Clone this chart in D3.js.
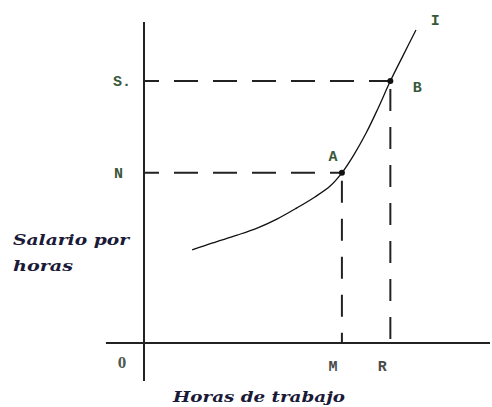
<!DOCTYPE html>
<html>
<head>
<meta charset="utf-8">
<script src="https://cdn.jsdelivr.net/npm/d3@7"></script>
<style>
  html, body { margin: 0; padding: 0; background: #fff; }
  svg { display: block; }
</style>
</head>
<body>
<svg id="chart" width="492" height="407"></svg>
<script>
// Curve I: hourly wage vs. hours of work (conceptual units 0–100)
const curveX = [13.9, 19.9, 26.9, 32.7, 38.4, 44.2, 49.4, 53.8, 57.2, 60.7, 64.2, 67.6, 71.2, 74.9, 78.6];
const curveY = [29.0, 31.2, 33.6, 35.8, 38.6, 42.1, 45.5, 48.9, 53.0, 58.7, 65.4, 73.0, 81.6, 89.6, 97.5];

// Marked points on the curve and their projections
const pointNames = ["A", "B"];
const pointX = [57.2, 71.2];
const pointY = [53.0, 81.6];
const yTickLabels = ["N", "S."];
const xTickLabels = ["M", "R"];
const originLabel = "0";
const curveLabel = "I";
const yTitle = ["Salario por", "horas"];
const xTitle = "Horas de trabajo";

const svg = d3.select("#chart");
const x = d3.scaleLinear().domain([0, 100]).range([144, 490]);
const y = d3.scaleLinear().domain([0, 100]).range([343, 22]);

const ink = "#222";
const labelInk = "#3a583b";

// Axes (extended slightly past the origin)
svg.append("line")
  .attr("x1", x(0)).attr("x2", x(0))
  .attr("y1", y(-11.8)).attr("y2", y(100))
  .attr("stroke", ink).attr("stroke-width", 2);
svg.append("line")
  .attr("x1", x(-11)).attr("x2", x(100))
  .attr("y1", y(0)).attr("y2", y(0))
  .attr("stroke", ink).attr("stroke-width", 2);

// Dashed projection lines
pointX.forEach((px, i) => {
  const py = pointY[i];
  svg.append("line")
    .attr("x1", x(0)).attr("x2", x(px))
    .attr("y1", y(py)).attr("y2", y(py))
    .attr("stroke", ink).attr("stroke-width", 2)
    .attr("stroke-dasharray", "24,15").attr("stroke-dashoffset", 9);
  svg.append("line")
    .attr("x1", x(px)).attr("x2", x(px))
    .attr("y1", y(py)).attr("y2", y(0))
    .attr("stroke", ink).attr("stroke-width", 2)
    .attr("stroke-dasharray", "22,16").attr("stroke-dashoffset", 30);
});

// Curve
const pts = curveX.map((cx, i) => [cx, curveY[i]]);
svg.append("path")
  .datum(pts)
  .attr("d", d3.line().x(d => x(d[0])).y(d => y(d[1])).curve(d3.curveCatmullRom))
  .attr("fill", "none").attr("stroke", "#111").attr("stroke-width", 1.3);

// Points
svg.selectAll("circle.pt").data(pointX).enter().append("circle")
  .attr("class", "pt")
  .attr("cx", d => x(d)).attr("cy", (d, i) => y(pointY[i]))
  .attr("r", 3).attr("fill", "#111");

const mono = "'Liberation Mono', 'DejaVu Sans Mono', monospace";

// Point names
svg.selectAll("text.pn").data(pointNames).enter().append("text")
  .attr("class", "pn")
  .attr("x", (d, i) => i === 0 ? x(pointX[i]) - 9 : x(pointX[i]) + 27)
  .attr("y", (d, i) => i === 0 ? y(pointY[i]) - 12 : y(pointY[i]) + 11)
  .attr("text-anchor", "middle")
  .attr("font-family", mono).attr("font-weight", "bold").attr("font-size", 15)
  .attr("fill", labelInk).text(d => d);

// Curve name
svg.append("text")
  .attr("x", x(84.2)).attr("y", y(99))
  .attr("text-anchor", "middle")
  .attr("font-family", mono).attr("font-weight", "bold").attr("font-size", 15)
  .attr("fill", labelInk).text(curveLabel);

// Y tick labels
svg.selectAll("text.yt").data(yTickLabels).enter().append("text")
  .attr("class", "yt")
  .attr("x", (d, i) => i === 0 ? 114 : 113)
  .attr("y", (d, i) => y(pointY[i]) + 5)
  .attr("font-family", mono).attr("font-weight", "bold").attr("font-size", 15)
  .attr("fill", labelInk).text(d => d);

// X tick labels
svg.selectAll("text.xt").data(xTickLabels).enter().append("text")
  .attr("class", "xt")
  .attr("x", (d, i) => x(pointX[i]) + (i === 0 ? -9 : -8))
  .attr("y", y(0) + 28)
  .attr("text-anchor", "middle")
  .attr("font-family", mono).attr("font-weight", "bold").attr("font-size", 15)
  .attr("fill", "#4a4a4a").text(d => d);

// Origin
svg.append("text")
  .attr("x", x(0) - 22).attr("y", y(0) + 25)
  .attr("text-anchor", "middle")
  .attr("font-family", "'Liberation Serif', serif").attr("font-weight", "bold").attr("font-size", 17)
  .attr("fill", "#4f5a4f").text(originLabel);

// Axis titles
const script = "'DejaVu Serif', serif";
svg.selectAll("text.ytitle").data(yTitle).enter().append("text")
  .attr("class", "ytitle")
  .attr("x", 13).attr("y", (d, i) => 245 + i * 26)
  .attr("font-family", script).attr("font-style", "italic").attr("font-weight", "bold")
  .attr("font-size", 15)
  .attr("textLength", (d, i) => i === 0 ? 116 : 60)
  .attr("lengthAdjust", "spacingAndGlyphs")
  .attr("fill", "#1a1a38").text(d => d);

svg.append("text")
  .attr("x", 173).attr("y", 402)
  .attr("font-family", script).attr("font-style", "italic").attr("font-weight", "bold")
  .attr("font-size", 15)
  .attr("textLength", 172).attr("lengthAdjust", "spacingAndGlyphs")
  .attr("fill", "#1a1a38").text(xTitle);
</script>
</body>
</html>
